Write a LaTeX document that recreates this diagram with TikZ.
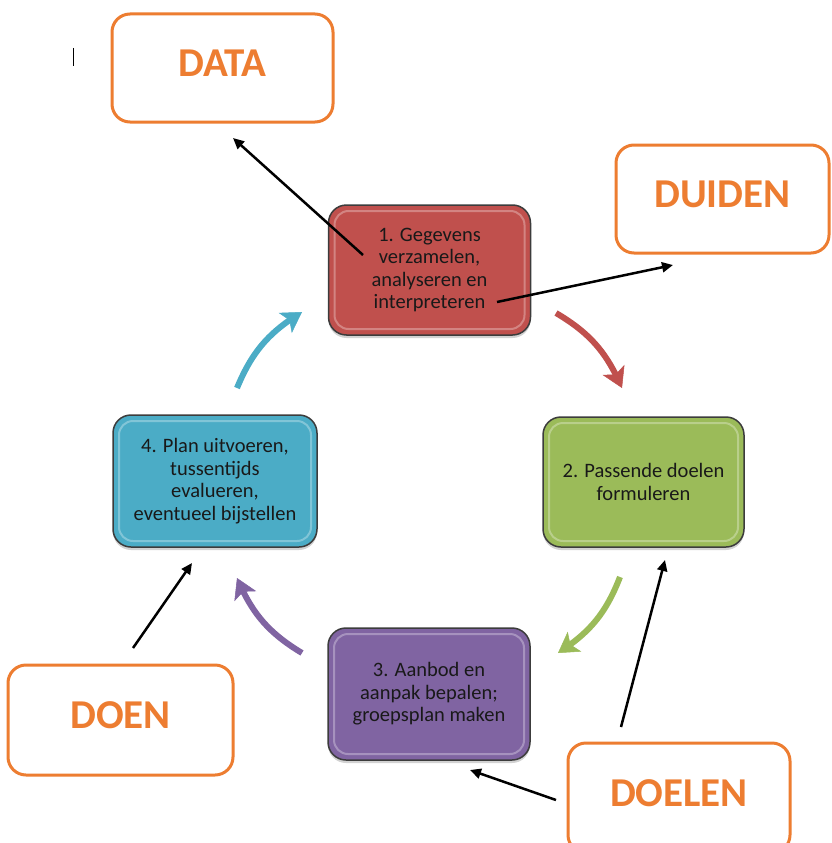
\documentclass[tikz,border=0pt]{standalone}
\usepackage{fontspec}
\setmainfont{Carlito}
\usetikzlibrary{arrows.meta, bending, shadows}

\definecolor{oranje}{RGB}{237,125,49}
\definecolor{stapRood}{RGB}{192,80,77}
\definecolor{stapGroen}{RGB}{155,187,89}
\definecolor{stapPaars}{RGB}{128,100,162}
\definecolor{stapBlauw}{RGB}{75,172,198}
\definecolor{rand}{RGB}{60,60,60}

\begin{document}
\begin{tikzpicture}[x=1pt, y=-1pt,
		woord/.style={draw=oranje, line width=3pt, rounded corners=18pt, fill=white, text=oranje, font=\fontsize{41}{44}\selectfont\bfseries, minimum width=221pt, minimum height=108pt, text depth=10pt},
		stap/.style={draw=rand, line width=1.5pt, rounded corners=18pt, minimum width=202pt, minimum height=130pt, align=center, text=black!90, font=\fontsize{20.5}{22.5}\selectfont, drop shadow={shadow xshift=0pt, shadow yshift=-3pt, opacity=0.35},
			path picture={\draw[white, opacity=0.3, line width=2pt, rounded corners=14pt] ([shift={(6pt,6pt)}]path picture bounding box.south west) rectangle ([shift={(-6pt,-6pt)}]path picture bounding box.north east);}},
		pijl/.style={line width=6pt, -{Stealth[length=20pt, width=24pt, inset=5pt, line width=0.5pt, flex]}},
		lijn/.style={black, line width=2.5pt, -{Triangle[length=11pt, width=10pt]}}
		]
		
		% Canvas
		\useasboundingbox (0,0) rectangle (831,843);
		\clip (0,0) rectangle (831,843);
		\fill[white] (0,0) rectangle (831,843);
		\draw[line width=1pt] (73,48) -- (73,66);
		
		% Steps of the cycle
		\node[stap, fill=stapRood] (s1) at (429.5,270) {1. Gegevens\\verzamelen,\\analyseren en\\interpreteren};
		\node[stap, fill=stapGroen, minimum width=201pt] (s2) at (643.5,482) {2. Passende doelen\\formuleren};
		\node[stap, fill=stapPaars, minimum height=132pt] (s3) at (429,694) {3. Aanbod en\\aanpak bepalen;\\groepsplan maken};
		\node[stap, fill=stapBlauw, minimum width=204pt, minimum height=132pt] (s4) at (215,481) {4. Plan uitvoeren,\\tussentijds\\evalueren,\\eventueel bijstellen};
		
		% Keywords
		\node[woord] (data) at (222.5,68) {DATA};
		\node[woord, minimum width=213pt] (duiden) at (722.5,199) {DUIDEN};
		\node[woord, minimum width=225pt, minimum height=110pt] (doen) at (120.5,720) {DOEN};
		\node[woord, minimum width=222pt, minimum height=110pt] (doelen) at (679,798) {DOELEN};
		
		% Curved arrows between the steps
		\coordinate (r1) at (556,313);
		\coordinate (r2) at (622,388);
		\coordinate (g1) at (620,577);
		\coordinate (g2) at (558,653);
		\coordinate (p1) at (302,653);
		\coordinate (p2) at (237,578);
		\coordinate (b1) at (237,388);
		\coordinate (b2) at (302,312);
		\draw[pijl, stapRood] (r1) to[bend left=18] (r2);
		\draw[pijl, stapGroen] (g1) to[bend left=18] (g2);
		\draw[pijl, stapPaars] (p1) to[bend left=18] (p2);
		\draw[pijl, stapBlauw] (b1) to[bend left=18] (b2);
		
		% Pointers to the keywords
		\coordinate (d1) at (363,255);
		\coordinate (d2) at (233,138);
		\coordinate (u1) at (497,302);
		\coordinate (u2) at (673,265);
		\coordinate (n1) at (133,648);
		\coordinate (n2) at (192,563);
		\coordinate (e1) at (621,727);
		\coordinate (e2) at (665,560);
		\coordinate (f1) at (556,800);
		\coordinate (f2) at (470,770);
		\draw[lijn] (d1) -- (d2);
		\draw[lijn] (u1) -- (u2);
		\draw[lijn] (n1) -- (n2);
		\draw[lijn] (e1) -- (e2);
		\draw[lijn] (f1) -- (f2);
		
	\end{tikzpicture}
\end{document}
